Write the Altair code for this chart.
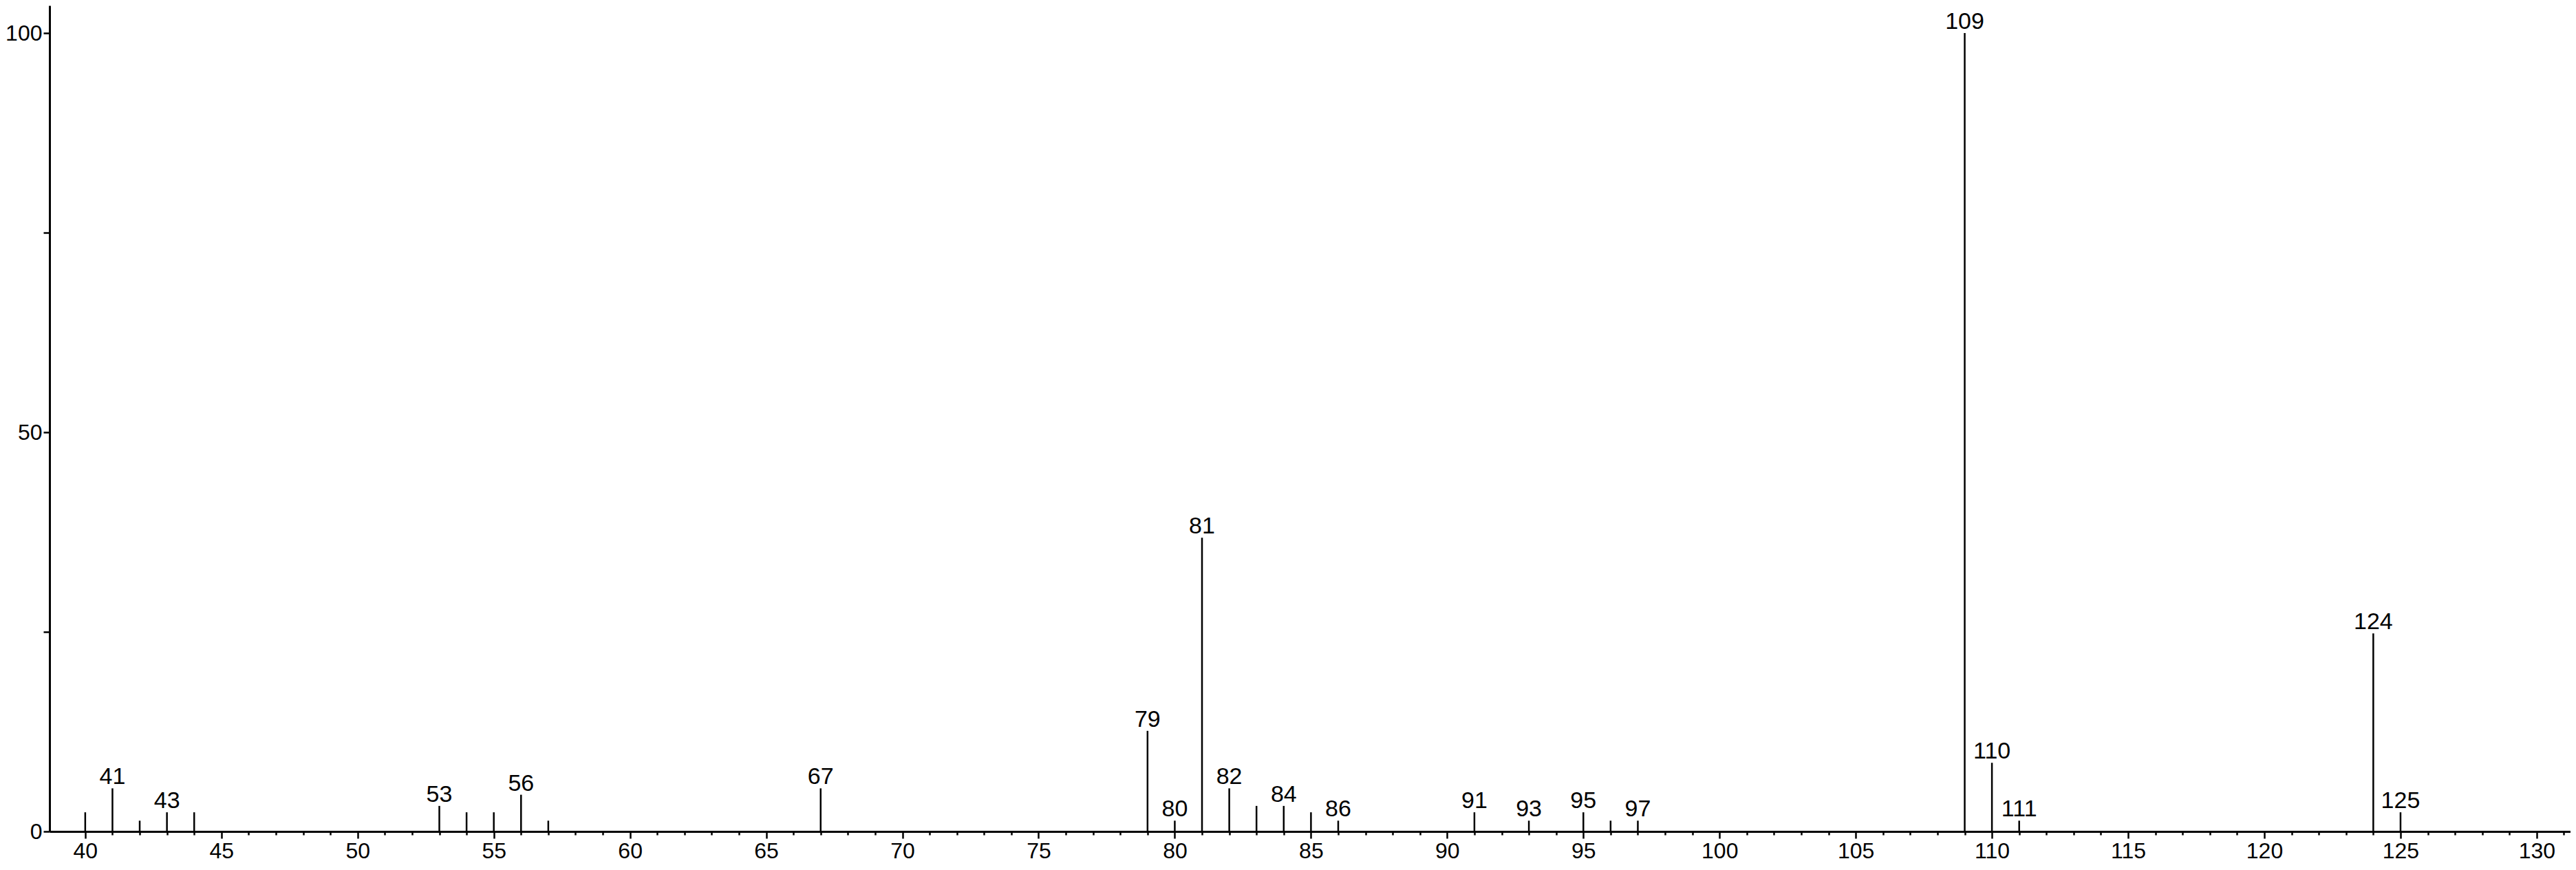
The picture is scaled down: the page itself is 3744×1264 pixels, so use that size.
import altair as alt
import pandas as pd

mz = [40, 41, 42, 43, 44, 53, 54, 55, 56, 57, 67, 79, 80, 81, 82, 83, 84, 85, 86,
      91, 93, 95, 96, 97, 109, 110, 111, 124, 125]
intensity = [2.4, 5.4, 1.35, 2.4, 2.4, 3.2, 2.4, 2.4, 4.6, 1.35, 5.4, 12.6, 1.35, 36.8,
             5.4, 3.2, 3.2, 2.4, 1.35, 2.4, 1.35, 2.4, 1.35, 1.35, 100, 8.6, 1.35, 24.8, 2.4]
labeled = [41, 43, 53, 56, 67, 79, 80, 81, 82, 84, 86, 91, 93, 95, 97, 109, 110, 111, 124, 125]

x_ticks = list(range(40, 132))
y_ticks = [0, 25, 50, 75, 100]

df = pd.DataFrame({"mz": mz, "intensity": intensity})
df["label"] = [str(m) if m in labeled else "" for m in mz]

FONT = "Liberation Sans"

xscale = alt.Scale(domain=[38.69, 131.24], nice=False, zero=False)
yscale = alt.Scale(domain=[0, 103.45], nice=False)

xaxis = alt.Axis(
    values=x_ticks,
    labelExpr="datum.value % 5 === 0 ? datum.label : ''",
    tickSize=alt.condition("datum.value % 5 === 0", alt.value(10), alt.value(5)),
    title=None, grid=False, labelFont=FONT, labelFontSize=32, labelColor="black",
    domainColor="black", domainWidth=3, tickColor="black", tickWidth=2.5,
    labelPadding=3, labelFlush=False, labelOverlap=False,
)
yaxis = alt.Axis(
    values=y_ticks,
    labelExpr="datum.value % 50 === 0 ? datum.label : ''",
    tickSize=9,
    title=None, grid=False, labelFont=FONT, labelFontSize=32, labelColor="black",
    domainColor="black", domainWidth=3, tickColor="black", tickWidth=2.5,
    labelPadding=2, labelFlush=False, labelOverlap=False,
)

base = alt.Chart(df)

rules = base.mark_rule(color="black", strokeWidth=2.5).encode(
    x=alt.X("mz:Q", scale=xscale, axis=xaxis),
    y=alt.Y("intensity:Q", scale=yscale, axis=yaxis),
    y2=alt.datum(0),
)

labels = base.transform_filter("datum.label != ''").mark_text(
    font=FONT, fontSize=34, color="black", baseline="alphabetic", align="center", dy=-6
).encode(
    x=alt.X("mz:Q", scale=xscale),
    y=alt.Y("intensity:Q", scale=yscale),
    text="label:N",
)

chart = alt.layer(rules, labels).properties(
    width=3664,
    height=1200,
    padding={"left": 64, "top": 0, "right": 0, "bottom": 48},
    autosize=alt.AutoSizeParams(type="none"),
    background="white",
).configure_view(stroke=None)

chart.save("out.html", embed_options={"renderer": "svg", "actions": False})
